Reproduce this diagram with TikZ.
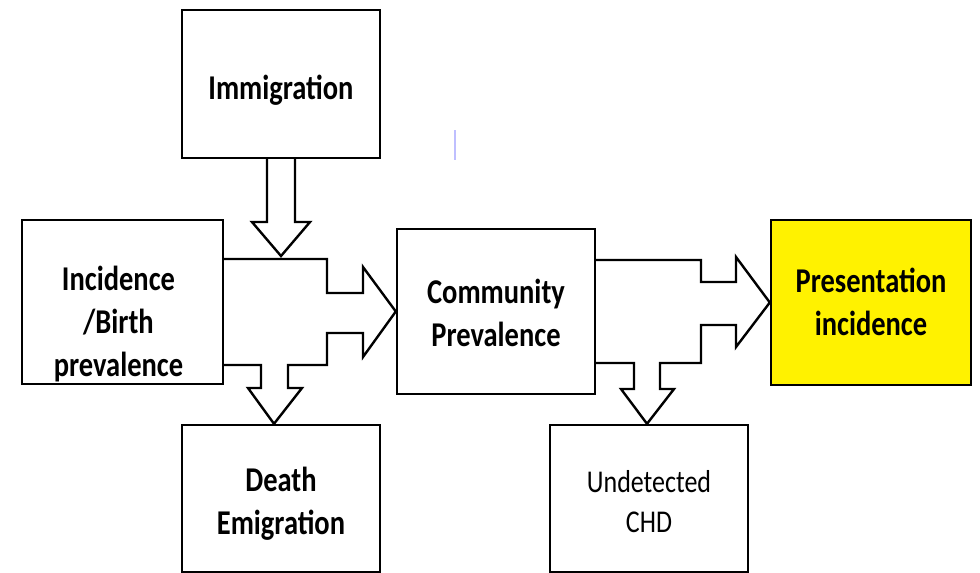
\documentclass[tikz,border=0pt]{standalone}
\usepackage{fontspec}
\usepackage{graphicx}
\setmainfont{Carlito}
\newcommand{\tallbox}[1]{\scalebox{1}[1.22]{\begin{tabular}{@{}c@{}}#1\end{tabular}}}
\begin{document}
\begin{tikzpicture}[
    x=1pt, y=-1pt,
    box/.style={rectangle, draw=black, line width=2.4pt, fill=white},
    lbl/.style={inner sep=0pt, font=\fontsize{28.5}{35}\selectfont\bfseries},
    blk/.style={draw=black, line width=2.4pt, line join=miter}
  ]
  \useasboundingbox (0,0) rectangle (980,573);

  % boxes
  \node[box, minimum width=198pt, minimum height=148pt] (imm) at (281,84) {};
  \node[box, minimum width=201pt, minimum height=164pt] (inc) at (122.5,302) {};
  \node[box, minimum width=198pt, minimum height=165pt] (comm) at (496,311.5) {};
  \node[box, fill=yellow, minimum width=200pt, minimum height=165pt] (pres) at (871,302.5) {};
  \node[box, minimum width=198pt, minimum height=147pt] (death) at (281,498.5) {};
  \node[box, minimum width=198pt, minimum height=147pt] (und) at (649,498.5) {};

  % texts
  \node[lbl] (immtxt) at ([yshift=-7pt]imm.center) {\tallbox{Immigration}};
  \node[lbl] (inctxt) at ([yshift=-23pt,xshift=-4pt]inc.center) {\tallbox{Incidence\\/Birth\\prevalence}};
  \node[lbl] (commtxt) at ([yshift=-5pt]comm.center) {\tallbox{Community\\Prevalence}};
  \node[lbl] (prestxt) at ([yshift=-3pt]pres.center) {\tallbox{Presentation\\incidence}};
  \node[lbl] (deathtxt) at ([yshift=-6pt]death.center) {\tallbox{Death\\Emigration}};
  \node[inner sep=0pt, font=\fontsize{26}{33}\selectfont] (undtxt) at ([yshift=-6pt]und.center) {\tallbox{Undetected\\CHD}};

  % block arrows
  \draw[blk] (267,0 |- imm.south) -- (267,222) -- (252,222) -- (281,256)
    -- (310,222) -- (295,222) -- (295,0 |- imm.south);

  \draw[blk] (inc.east |- 0,259) -- (327,259) -- (327,293) -- (363,293) -- (363,267)
    -- (comm.west) -- (363,357) -- (363,333) -- (327,333) -- (327,365)
    -- (288,365) -- (288,388) -- (302,388) -- (274,0 |- death.north)
    -- (248,388) -- (261,388) -- (261,365) -- (inc.east |- 0,365);

  \draw[blk] (comm.east |- 0,260) -- (701,260) -- (701,282) -- (736,282) -- (736,257)
    -- (pres.west) -- (736,347) -- (736,325) -- (701,325) -- (701,363)
    -- (660,363) -- (660,389) -- (674,389) -- (647,0 |- und.north)
    -- (621,389) -- (634,389) -- (634,363) -- (comm.east |- 0,363);

  % stray mark
  \draw[blue!25, line width=1.5pt] (455,130) -- (455,160);
\end{tikzpicture}
\end{document}
